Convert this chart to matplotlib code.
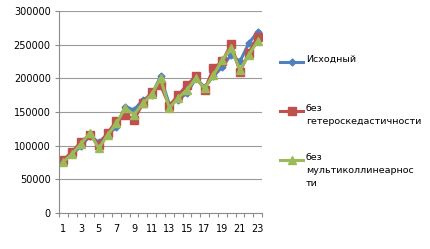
import numpy as np
import matplotlib
matplotlib.use("Agg")
import matplotlib.pyplot as plt
from matplotlib.lines import Line2D

# данные
obs = np.arange(1, 24)
ishodny = [78000, 88000, 99000, 115000, 105000, 117000, 127000, 158000, 153000, 168000,
           175000, 203000, 161000, 168000, 178000, 200000, 187000, 203000, 217000, 235000,
           225000, 252000, 269000]
bez_getero = [79000, 91000, 106000, 116000, 101000, 119000, 136000, 146000, 138000, 163000,
              180000, 190000, 159000, 175000, 190000, 203000, 183000, 215000, 225000, 251000,
              210000, 237000, 262000]
bez_multi = [76000, 88000, 103000, 119000, 96000, 116000, 133000, 156000, 146000, 163000,
             176000, 200000, 156000, 171000, 183000, 200000, 185000, 205000, 227000, 245000,
             212000, 235000, 255000]
labels = ["Исходный", "без\nгетероскедастичности", "без\nмультиколлинеарнос\nти"]
colors = ["#4F81BD", "#C0504D", "#9BBB59"]
markers = ["D", "s", "^"]
msizes = [3.5, 6, 6]

fig = plt.figure(figsize=(4.3, 2.49), dpi=100)
ax = fig.add_axes([59/430, 1-213/249, 203/430, 202/249])

for y, c, m, ms in zip([ishodny, bez_getero, bez_multi], colors, markers, msizes):
    ax.plot(obs, y, color=c, marker=m, markersize=ms, linewidth=2.2,
            markeredgecolor=c, markerfacecolor=c)

ax.set_xlim(0.5, 23.5)
ax.set_ylim(0, 300000)
ax.set_yticks(np.arange(0, 300001, 50000))
ax.yaxis.grid(True, color="#9a9a9a", linewidth=0.8)
ax.set_axisbelow(True)
ax.set_xticks(np.arange(0.5, 24, 1))
ax.set_xticklabels([])
ax.set_xticks(obs[::2], minor=True)
ax.set_xticklabels([str(v) for v in obs[::2]], minor=True)
ax.tick_params(axis="x", which="minor", length=0, pad=8, labelsize=7)
ax.tick_params(axis="x", which="major", length=3, color="#8c8c8c", direction="out")
ax.tick_params(axis="y", length=3, color="#8c8c8c", labelsize=7, pad=3)
for s in ["top", "right"]:
    ax.spines[s].set_visible(False)
for s in ["left", "bottom"]:
    ax.spines[s].set_color("#8c8c8c")

# легенда
leg_y = [62, 111, 160]
for lab, c, m, ms, yy in zip(labels, colors, markers, msizes, leg_y):
    yf = 1 - yy/249
    fig.add_artist(Line2D([280/430, 303/430], [yf, yf], color=c, linewidth=2.2,
                          transform=fig.transFigure))
    fig.add_artist(Line2D([291.5/430], [yf], color=c, marker=m, markersize=ms,
                          transform=fig.transFigure))
    fig.text(306/430, yf + 7/249, lab, fontsize=6.8, va="top", ha="left",
             linespacing=1.55)

fig.savefig("out.png", dpi=100)
